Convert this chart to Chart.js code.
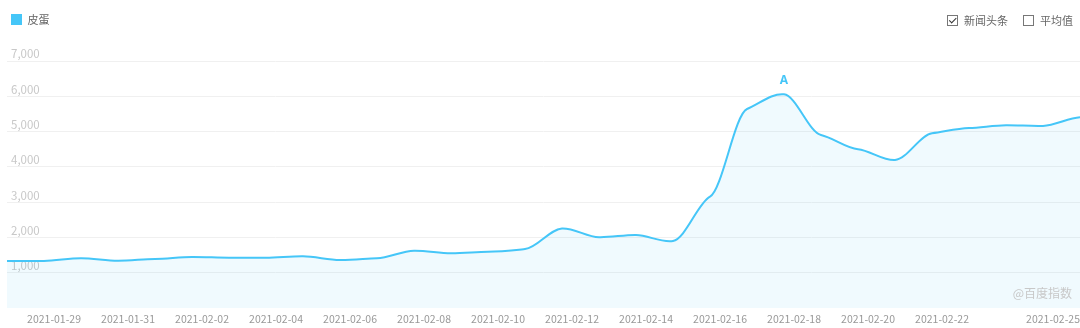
<!DOCTYPE html>
<html>
<head>
<meta charset="utf-8">
<script src="https://cdn.jsdelivr.net/npm/chart.js@4"></script>
<style>
  html, body { margin: 0; padding: 0; background: #fff; }
  #wrap { position: relative; width: 1080px; height: 328px; font-family: "Noto Sans CJK SC", "Noto Sans", sans-serif; }
  #toggles { position: absolute; top: 12px; right: 7px; font-size: 11px; color: #666; display: flex; line-height: 16px; }
  #toggles label { display: flex; align-items: center; margin-left: 15px; }
  #toggles .box { width: 9px; height: 9px; border: 1px solid #777; margin-right: 6px; position: relative; }
  #toggles .box.on::after { content: ""; position: absolute; left: 2.5px; top: 0px; width: 2.5px; height: 5.5px;
    border: solid #333; border-width: 0 1.5px 1.5px 0; transform: rotate(45deg); }
  #mark { position: absolute; right: 8px; top: 284px; font-size: 12px; color: #c8c8c8; }
</style>
</head>
<body>
<div id="wrap">
  <canvas id="trendChart" width="1080" height="328"></canvas>
  <div id="toggles">
    <label><span class="box on"></span>新闻头条</label>
    <label><span class="box"></span>平均值</label>
  </div>
  <div id="mark">@百度指数</div>
</div>
<script>
// daily search index, 2021-01-27 .. 2021-02-25
const dates = [
  '2021-01-27', '2021-01-28', '2021-01-29', '2021-01-30', '2021-01-31', '2021-02-01',
  '2021-02-02', '2021-02-03', '2021-02-04', '2021-02-05', '2021-02-06', '2021-02-07',
  '2021-02-08', '2021-02-09', '2021-02-10', '2021-02-11', '2021-02-12', '2021-02-13',
  '2021-02-14', '2021-02-15', '2021-02-16', '2021-02-17', '2021-02-18', '2021-02-19',
  '2021-02-20', '2021-02-21', '2021-02-22', '2021-02-23', '2021-02-24', '2021-02-25'
];
const pidanValues = [
  1330, 1335, 1410, 1340, 1390, 1445, 1425, 1425, 1465, 1360,
  1410, 1625, 1550, 1595, 1670, 2255, 2005, 2070, 1900, 3155,
  5640, 6055, 4905, 4500, 4195, 4950, 5100, 5180, 5160, 5405
];
const shownTicks = [
  '2021-01-29', '2021-01-31', '2021-02-02', '2021-02-04', '2021-02-06', '2021-02-08', '2021-02-10',
  '2021-02-12', '2021-02-14', '2021-02-16', '2021-02-18', '2021-02-20', '2021-02-22', '2021-02-25'
];
const yTicks = [1000, 2000, 3000, 4000, 5000, 6000, 7000];
const newsDates = ['2021-02-17'];
const newsLetters = ['A'];

const lineColor = '#45c6f8';
const tangentScale = 0.3; // baidu's curve bends flat at each day

// news headline letters above the curve
const newsMarks = {
  id: 'newsMarks',
  afterDatasetsDraw(chart) {
    const { ctx, scales: { x, y } } = chart;
    ctx.save();
    ctx.font = 'bold 12px "Noto Sans", sans-serif';
    ctx.fillStyle = lineColor;
    ctx.textAlign = 'center';
    ctx.textBaseline = 'middle';
    newsDates.forEach((d, i) => {
      const idx = dates.indexOf(d);
      if (idx < 0) return;
      ctx.fillText(newsLetters[i], x.getPixelForValue(idx), y.getPixelForValue(pidanValues[idx]) - 14);
    });
    ctx.restore();
  }
};

// softer tangents than chart.js' default spline
const flatTangents = {
  id: 'flatTangents',
  beforeDatasetsDraw(chart) {
    chart.getSortedVisibleDatasetMetas().forEach(meta => {
      const pts = meta.data;
      const n = pts.length;
      pts.forEach((p, i) => {
        const prev = pts[Math.max(i - 1, 0)];
        const next = pts[Math.min(i + 1, n - 1)];
        const slope = next.x === prev.x ? 0 : (next.y - prev.y) / (next.x - prev.x) * tangentScale;
        const hPrev = (p.x - prev.x) / 3;
        const hNext = (next.x - p.x) / 3;
        p.cp1x = p.x - hPrev;
        p.cp1y = p.y - slope * hPrev;
        p.cp2x = p.x + hNext;
        p.cp2y = p.y + slope * hNext;
      });
    });
  }
};

// leave some room below the legend
const legendGap = {
  id: 'legendGap',
  beforeInit(chart) {
    const fit = chart.legend.fit;
    chart.legend.fit = function () {
      fit.call(this);
      this.height += 26;
    };
  }
};

new Chart(document.getElementById('trendChart'), {
  type: 'line',
  data: {
    labels: dates,
    datasets: [{
      label: '皮蛋',
      data: pidanValues,
      borderColor: lineColor,
      backgroundColor: 'rgba(62,197,248,0.08)',
      borderWidth: 2,
      fill: 'origin',
      tension: 0.4,
      pointRadius: 0
    }]
  },
  options: {
    responsive: false,
    animation: false,
    layout: { padding: { left: 7, right: 0, top: 10, bottom: 2 } },
    plugins: {
      legend: {
        align: 'start',
        labels: {
          boxWidth: 11,
          boxHeight: 11,
          padding: 4,
          color: '#666',
          font: { size: 11, family: '"Noto Sans CJK SC", sans-serif' },
          generateLabels: chart => chart.data.datasets.map((ds, i) => ({
            text: ds.label, fillStyle: ds.borderColor, strokeStyle: ds.borderColor,
            lineWidth: 0, fontColor: '#666', datasetIndex: i
          }))
        }
      },
      tooltip: { enabled: false }
    },
    scales: {
      x: {
        grid: { display: false, drawTicks: false },
        border: { display: false },
        afterFit: axis => { axis.height = 18; axis.paddingLeft = 0; axis.paddingRight = 0; },
        ticks: {
          autoSkip: false,
          maxRotation: 0,
          align: 'end',
          padding: 5,
          color: '#999',
          font: { size: 10.5, family: '"Noto Sans CJK SC", sans-serif' },
          callback: function (val, i) {
            const d = dates[i];
            return shownTicks.includes(d) ? d : '';
          }
        }
      },
      y: {
        min: 0,
        max: 7000,
        afterBuildTicks: axis => { axis.ticks = [0].concat(yTicks).map(v => ({ value: v })); },
        afterFit: axis => { axis.width = 0; axis.paddingTop = 0; axis.paddingBottom = 0; },
        grid: {
          drawTicks: false,
          color: ctx => ctx.tick && ctx.tick.value === 0 ? 'rgba(0,0,0,0)' : '#f0f0f0'
        },
        border: { display: false },
        ticks: {
          mirror: true,
          padding: 4,
          labelOffset: -7,
          color: '#c8c8c8',
          font: { size: 11.5, family: '"Noto Sans CJK SC", sans-serif' },
          callback: v => v === 0 ? '' : v.toLocaleString('en-US')
        }
      }
    }
  },
  plugins: [flatTangents, newsMarks, legendGap]
});
</script>
</body>
</html>
